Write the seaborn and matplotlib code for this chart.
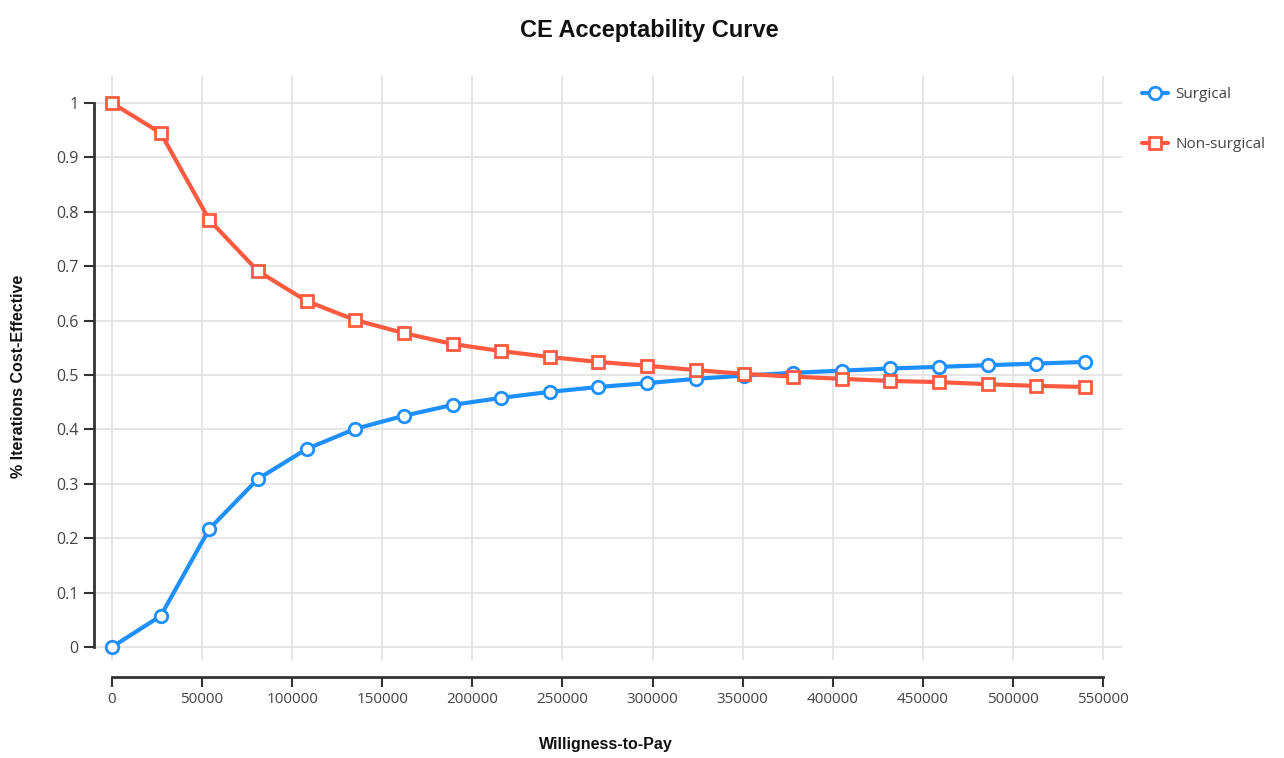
import matplotlib
matplotlib.use("Agg")
import matplotlib.pyplot as plt
import seaborn as sns
import pandas as pd
from matplotlib import font_manager

wtp = [0, 27000, 54000, 81000, 108000, 135000, 162000, 189000, 216000, 243000,
       270000, 297000, 324000, 351000, 378000, 405000, 432000, 459000, 486000,
       513000, 540000]
surgical = [0.000, 0.057, 0.217, 0.309, 0.364, 0.401, 0.425, 0.445, 0.458, 0.469,
            0.478, 0.485, 0.493, 0.499, 0.504, 0.508, 0.512, 0.515, 0.518, 0.521, 0.524]
non_surgical = [1.000, 0.945, 0.785, 0.691, 0.636, 0.601, 0.577, 0.557, 0.544, 0.533,
                0.524, 0.517, 0.509, 0.502, 0.497, 0.493, 0.489, 0.487, 0.483, 0.480, 0.478]
series_names = ["Surgical", "Non-surgical"]
x_ticks = list(range(0, 550001, 50000))
y_ticks = [0, 0.1, 0.2, 0.3, 0.4, 0.5, 0.6, 0.7, 0.8, 0.9, 1]
y_tick_labels = ["0", "0.1", "0.2", "0.3", "0.4", "0.5", "0.6", "0.7", "0.8", "0.9", "1"]

sns.set_theme(style="white")
plt.rcParams["font.family"] = ["Open Sans", "DejaVu Sans"]

names = {f.name for f in font_manager.fontManager.ttflist}
narrow = "Liberation Sans Narrow" in names
tick_family = ["Liberation Sans Narrow"] if narrow else ["Open Sans"]
tick_size = 13.5 if narrow else 11.5

W, H = 1284, 758
fig = plt.figure(figsize=(W / 100, H / 100), dpi=100)
left, right, top, bottom = 94, 1122, 76, 660
ax = fig.add_axes([left / W, 1 - bottom / H, (right - left) / W, (bottom - top) / H])

blue = "#1E8FFF"
red = "#FF5A3F"

sns.lineplot(x=wtp, y=surgical, ax=ax, color=blue, linewidth=3, marker="o",
             markersize=9, markerfacecolor="white", markeredgecolor=blue,
             markeredgewidth=2, label=series_names[0], zorder=3)
sns.lineplot(x=wtp, y=non_surgical, ax=ax, color=red, linewidth=3, marker="s",
             markersize=8, markerfacecolor="white", markeredgecolor=red,
             markeredgewidth=2, label=series_names[1], zorder=3)

px_per_x = (1103 - 112) / 550000
ax.set_xlim(-(112 - left) / px_per_x, 550000 + (right - 1103) / px_per_x)
px_per_y = 647 - 103
ax.set_ylim(-(bottom - 647) / px_per_y, 1 + (103 - top) / px_per_y)

ax.set_xticks(x_ticks)
ax.set_xticklabels([str(v) for v in x_ticks])
ax.set_yticks(y_ticks)
ax.set_yticklabels(y_tick_labels)
for lab in ax.get_xticklabels() + ax.get_yticklabels():
    lab.set_family(tick_family)
    lab.set_fontsize(tick_size)

ax.grid(True, color="#e3e3e3", linewidth=1.3)
ax.set_axisbelow(True)

for s in ["top", "right"]:
    ax.spines[s].set_visible(False)
ax.spines["left"].set_bounds(0, 1)
ax.spines["left"].set_color("#333333")
ax.spines["left"].set_linewidth(2)
ax.spines["bottom"].set_bounds(0, 550000)
ax.spines["bottom"].set_position(("outward", 12))
ax.spines["bottom"].set_color("#333333")
ax.spines["bottom"].set_linewidth(2)

ax.tick_params(axis="both", which="both", direction="out", length=7, width=1.5,
               color="#333333", labelcolor="#444444")
ax.tick_params(axis="x", bottom=True, pad=4)
ax.tick_params(axis="y", left=True, pad=4)

ax.set_xlabel("")
ax.set_ylabel("")
bold_family = ["Liberation Sans", "DejaVu Sans"]
fig.text(606 / W, 1 - 745 / H, "Willigness-to-Pay", ha="center", va="center",
         fontsize=11.5, fontweight="bold", family=bold_family, color="#111111")
fig.text(19 / W, 1 - 376 / H, "% Iterations Cost-Effective", ha="center", va="center",
         rotation=90, fontsize=11.5, fontweight="bold", family=bold_family,
         color="#111111")
fig.text(649 / W, 1 - 31 / H, "CE Acceptability Curve", ha="center", va="center",
         fontsize=17, fontweight="bold", family=bold_family, color="#111111")

leg = ax.legend(loc="upper left", bbox_to_anchor=(1136 / W, 1 - 81 / H),
                bbox_transform=fig.transFigure, frameon=False,
                prop={"family": tick_family, "size": tick_size if narrow else 11},
                labelspacing=2.3 if not narrow else 1.9, handlelength=1.7,
                handletextpad=0.5, borderaxespad=0)
for t in leg.get_texts():
    t.set_color("#444444")

fig.savefig("out.png", dpi=100, facecolor="white")
